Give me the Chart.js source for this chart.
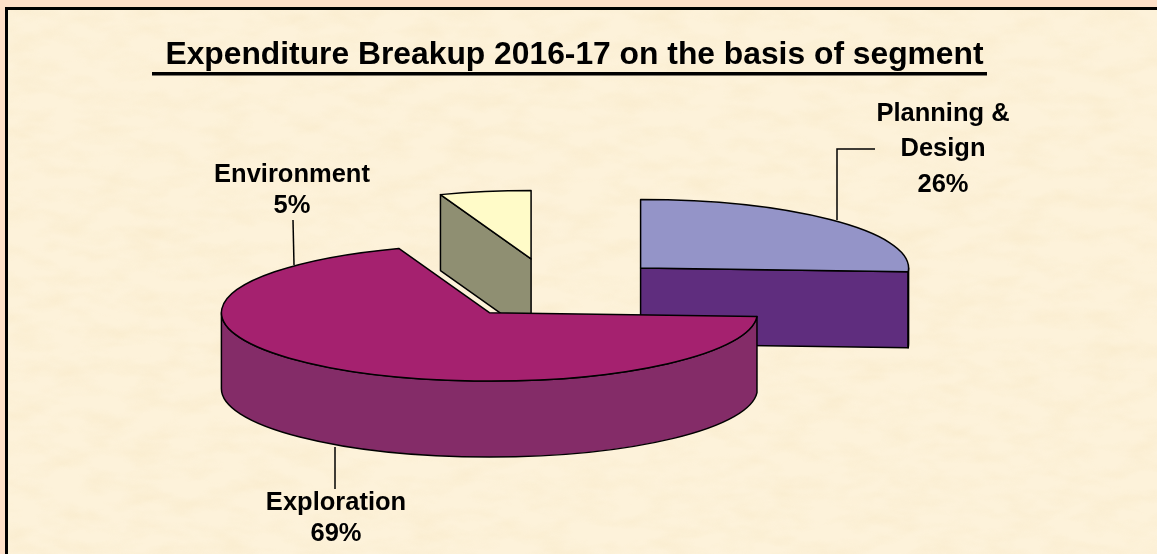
<!DOCTYPE html>
<html>
<head>
<meta charset="utf-8">
<style>
html,body{margin:0;padding:0;width:1157px;height:554px;overflow:hidden;background:#fee0c8;}
#panel{position:absolute;left:5px;top:7px;width:1152px;height:547px;box-sizing:border-box;border-left:3px solid #000;border-top:3px solid #000;background-color:#fdf2da;}
#panel svg{position:absolute;left:0;top:0;}
#wrap{position:absolute;left:0;top:0;width:1157px;height:554px;}
</style>
</head>
<body>
<div id="panel">
<svg width="1152" height="547"><filter id="f" x="0" y="0" width="100%" height="100%"><feTurbulence type="fractalNoise" baseFrequency="0.025 0.06" numOctaves="3" seed="7"/><feColorMatrix type="matrix" values="0 0 0 0 0.93  0 0 0 0 0.80  0 0 0 0 0.55  1.6 0 0 0 -0.62"/></filter><rect width="1152" height="547" filter="url(#f)" opacity="0.55"/></svg>
</div>
<div id="wrap"><canvas id="c" width="1157" height="554"></canvas></div>
<script src="https://cdn.jsdelivr.net/npm/chart.js@4"></script>
<script>
const categories = ["Planning & Design", "Exploration", "Environment"];
const values = [25.9, 68.6, 5.49];
const percentLabels = ["26%", "69%", "5%"];
const topColors = ["#9494c8", "#a5216f", "#fffbc8"];
const sideColors = ["#5f2d7e", "#842c68", "#8f8f72"];
const explodeX = [115, 113, 151];
const explodeY = [118, 118, 118];
const drawOrder = [2, 0, 1];
const labelLines = [["Planning &", "Design", "26%"], ["Exploration", "69%"], ["Environment", "5%"]];
const labelPlace = [{x: 943, y: 121, gap: 35.3}, {x: 336, y: 510, gap: 31}, {x: 292, y: 182, gap: 31}];
const leaders = [[[875,149],[837,149],[837,220]], [[335,447],[335,489]], [[293,220],[294,265]]];
const tilt = 0.255, depth = 76, shiftX = -17.5;
const FONT = '"Liberation Sans", Arial, sans-serif';

const pie3d = {
  id: 'pie3d',
  beforeDatasetDraw(chart, args) {
    const ctx = chart.ctx, arcs = args.meta.data;
    ctx.save();
    ctx.lineWidth = 1.5; ctx.strokeStyle = '#000'; ctx.lineJoin = 'round';
    const paint = (fill) => { ctx.fillStyle = fill; ctx.fill(); ctx.stroke(); };
    drawOrder.forEach(i => {
      const s = arcs[i], a = s.startAngle, b = s.endAngle, R = s.outerRadius, r = R * tilt;
      const mid = (a + b) / 2;
      const cx = s.x + shiftX + explodeX[i] * Math.cos(mid);
      const cy = s.y + explodeY[i] * Math.sin(mid) * tilt;
      const face = (ang) => {
        ctx.beginPath();
        ctx.moveTo(cx, cy);
        ctx.lineTo(cx + R * Math.cos(ang), cy + r * Math.sin(ang));
        ctx.lineTo(cx + R * Math.cos(ang), cy + r * Math.sin(ang) + depth);
        ctx.lineTo(cx, cy + depth);
        ctx.closePath();
        paint(sideColors[i]);
      };
      if (-Math.cos(a) > 0) face(a);
      if (Math.cos(b) > 0) face(b);
      const w0 = Math.max(a, 0), w1 = Math.min(b, Math.PI);
      if (w1 > w0) {
        ctx.beginPath();
        ctx.ellipse(cx, cy, R, r, 0, w0, w1);
        ctx.ellipse(cx, cy + depth, R, r, 0, w1, w0, true);
        ctx.closePath();
        paint(sideColors[i]);
      }
      ctx.beginPath();
      ctx.moveTo(cx, cy);
      ctx.ellipse(cx, cy, R, r, 0, a, b);
      ctx.closePath();
      paint(topColors[i]);
    });
    ctx.restore();
    return false;
  },
  afterDraw(chart) {
    const ctx = chart.ctx;
    ctx.save();
    ctx.fillStyle = '#000';
    ctx.fillRect(152, 72, 835, 3.5);
    ctx.strokeStyle = '#000'; ctx.lineWidth = 1.5;
    leaders.forEach(l => {
      ctx.beginPath();
      l.forEach((p, k) => k ? ctx.lineTo(p[0], p[1]) : ctx.moveTo(p[0], p[1]));
      ctx.stroke();
    });
    ctx.font = 'bold 25.5px ' + FONT;
    ctx.textAlign = 'center'; ctx.textBaseline = 'alphabetic';
    labelLines.forEach((lines, i) => {
      const p = labelPlace[i];
      lines.forEach((t, k) => ctx.fillText(t, p.x, p.y + k * p.gap));
    });
    ctx.restore();
  }
};

new Chart(document.getElementById('c'), {
  type: 'pie',
  data: { labels: categories, datasets: [{ data: values, backgroundColor: topColors, borderColor: '#000', borderWidth: 1 }] },
  options: {
    responsive: false,
    animation: false,
    radius: 268,
    layout: { padding: { top: 0, right: 8, bottom: 51, left: 0 } },
    plugins: {
      legend: { display: false },
      tooltip: { enabled: false },
      title: { display: true, text: 'Expenditure Breakup 2016-17 on the basis of segment', color: '#000',
               font: { family: FONT, size: 31.8, weight: 'bold' }, padding: { top: 36, bottom: 0 } }
    }
  },
  plugins: [pie3d]
});
</script>
</body>
</html>
